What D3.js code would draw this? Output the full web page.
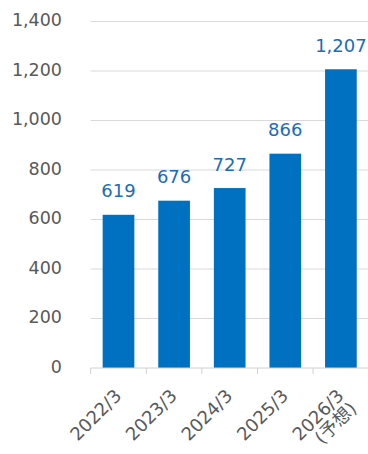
<!DOCTYPE html>
<html><head><meta charset="utf-8">
<script src="https://cdn.jsdelivr.net/npm/d3@7"></script>
<style>body{margin:0;background:#fff;}svg{display:block;}</style>
</head><body>
<svg id="c" width="368" height="454"></svg>
<script>
const categories = ["2022/3", "2023/3", "2024/3", "2025/3", "2026/3"];
const subLabels = ["", "", "", "", "(予想)"];
const values = [619, 676, 727, 866, 1207];
const yTicks = [0, 200, 400, 600, 800, 1000, 1200, 1400];

const svg = d3.select("#c");
const font = "'DejaVu Sans', Verdana, 'Noto Sans CJK JP', sans-serif";
const x = d3.scaleBand().domain(categories).range([90.7, 368.7]).paddingInner(0.43).paddingOuter(0.215);
const y = d3.scaleLinear().domain([0, 1400]).range([368, 21.5]);
const fmt = d3.format(",");

// gridlines
svg.append("g").selectAll("line").data(yTicks.filter(d => d > 0)).join("line")
  .attr("x1", 90.7).attr("x2", 368).attr("y1", d => y(d)).attr("y2", d => y(d))
  .attr("stroke", "#d9d9d9").attr("stroke-width", 1);

// y labels
svg.append("g").selectAll("text").data(yTicks).join("text")
  .attr("x", 62).attr("y", d => y(d) - 1.5).attr("dy", "0.35em")
  .attr("text-anchor", "end").attr("font-family", font).attr("font-size", 17.5)
  .attr("fill", "#595959").text(d => fmt(d));

// bars
svg.append("g").selectAll("rect").data(values).join("rect")
  .attr("x", (d, i) => x(categories[i])).attr("width", x.bandwidth())
  .attr("y", d => y(d)).attr("height", d => y(0) - y(d))
  .attr("fill", "#0070c0");

// baseline axis
const ax = svg.append("g");
ax.append("line").attr("x1", 90.7).attr("x2", 368).attr("y1", y(0)).attr("y2", y(0))
  .attr("stroke", "#d0d0d0").attr("stroke-width", 1);
ax.selectAll("line.t").data(categories).join("line").attr("class", "t")
  .attr("x1", d => x(d) - x.step() * 0.215).attr("x2", d => x(d) - x.step() * 0.215)
  .attr("y1", y(0)).attr("y2", y(0) + 6)
  .attr("stroke", "#d0d0d0").attr("stroke-width", 1);

// data labels
svg.append("g").selectAll("text").data(values).join("text")
  .attr("x", (d, i) => x(categories[i]) + x.bandwidth() / 2).attr("y", d => y(d) - 17.5)
  .attr("text-anchor", "middle").attr("font-family", font).attr("font-size", 18)
  .attr("fill", "#1a6db5").text(d => fmt(d));

// x labels
const xl = svg.append("g").selectAll("text").data(categories).join("text")
  .attr("transform", d => `translate(${x(d) + x.bandwidth() / 2 + 4},${397}) rotate(-45)`)
  .attr("text-anchor", "end").attr("font-family", font).attr("font-size", 18)
  .attr("fill", "#595959");
xl.append("tspan").attr("x", 0).attr("dy", 0).text(d => d);
xl.append("tspan").attr("x", 0).attr("dy", "1.0em").text((d, i) => subLabels[i]);
</script>
</body></html>
